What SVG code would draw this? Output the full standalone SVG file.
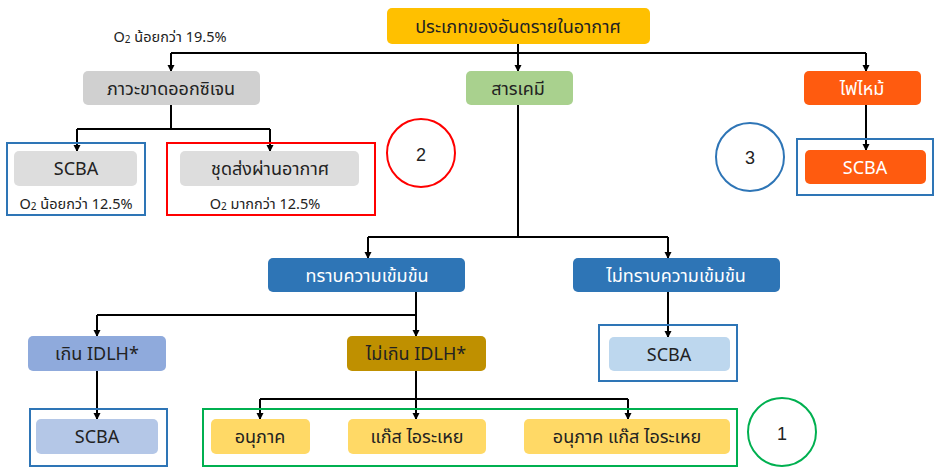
<svg xmlns="http://www.w3.org/2000/svg" width="946" height="475" viewBox="0 0 946 475">
<defs>
<marker id="ah" markerWidth="8" markerHeight="8" refX="6" refY="4" orient="auto" markerUnits="userSpaceOnUse"><path d="M0,0.5 L7,4 L0,7.5 Z" fill="#000"/></marker>
<style>
text{font-family:"Noto Sans","Noto Sans Thai","DejaVu Sans",sans-serif;font-size:18px;text-anchor:middle;dominant-baseline:central;fill:#222}
.s{font-size:14.5px}
.w{fill:#fff}
.c{stroke:#000;stroke-width:2;fill:none}
.a{marker-end:url(#ah)}
.f{fill:none;stroke-width:2}
</style>
</defs>
<rect width="946" height="475" fill="#fff"/>
<g id="connectors">
<path class="c" d="M518 44V53M171 53H866"/>
<path class="c a" d="M171 53V71"/>
<path class="c a" d="M518 53V71"/>
<path class="c a" d="M866 53V71"/>
<path class="c" d="M171 105V129M77 129H270"/>
<path class="c a" d="M77 129V151"/>
<path class="c a" d="M270 129V151"/>
<path class="c a" d="M866 105V150"/>
<path class="c" d="M518 105V237M368 237H668"/>
<path class="c a" d="M368 237V258"/>
<path class="c a" d="M668 237V258"/>
<path class="c a" d="M668 292V337"/>
<path class="c" d="M416 292V315M97 315H416"/>
<path class="c a" d="M97 315V336"/>
<path class="c a" d="M416 315V336"/>
<path class="c a" d="M97 371V419"/>
<path class="c" d="M260 399H628"/>
<path class="c a" d="M260 399V419"/>
<path class="c a" d="M416 371V419"/>
<path class="c a" d="M628 399V419"/>
</g>
<g id="frames">
<rect class="f" x="7" y="143" width="138" height="72" stroke="#2E75B6"/>
<rect class="f" x="167" y="143" width="208" height="72" stroke="#FF0000"/>
<rect class="f" x="797" y="139" width="136" height="56" stroke="#2E75B6"/>
<rect class="f" x="599" y="325" width="138" height="56" stroke="#2E75B6"/>
<rect class="f" x="30" y="409" width="137" height="57" stroke="#2E75B6"/>
<rect class="f" x="203" y="409" width="534" height="57" stroke="#00B050"/>
<circle class="f" cx="421" cy="153" r="34" stroke="#FF0000"/>
<circle class="f" cx="750" cy="157" r="34" stroke="#2E75B6"/>
<circle class="f" cx="782" cy="432" r="34" stroke="#00B050"/>
<text x="421" y="155" style="font-family:'Liberation Sans',sans-serif">2</text>
<text x="750" y="158" style="font-family:'Liberation Sans',sans-serif">3</text>
<text x="782" y="434" style="font-family:'Liberation Sans',sans-serif">1</text>
</g>
<g id="n-root"><rect x="387" y="8" width="263" height="36" rx="5" fill="#FFC000"/><text x="518" y="26">ประเภทของอันตรายในอากาศ</text></g>
<g id="lbl-o195"><text class="s" x="170" y="36">O<tspan font-size="10" dy="3">2</tspan><tspan dy="-3"> น้อยกว่า 19.5%</tspan></text></g>
<g id="n-oxy"><rect x="83" y="71" width="177" height="34" rx="5" fill="#D0D0D0"/><text x="171" y="88">ภาวะขาดออกซิเจน</text></g>
<g id="n-chem"><rect x="466" y="71" width="107" height="34" rx="5" fill="#A9D18E"/><text x="518" y="88">สารเคมี</text></g>
<g id="n-fire"><rect x="804" y="71" width="117" height="34" rx="5" fill="#FF5B0F"/><text class="w" x="862" y="88">ไฟไหม้</text></g>
<g id="n-scba1"><rect x="14" y="151" width="123" height="35" rx="5" fill="#DDDDDD"/><text x="76" y="168">SCBA</text><text class="s" x="76" y="203">O<tspan font-size="10" dy="3">2</tspan><tspan dy="-3"> น้อยกว่า 12.5%</tspan></text></g>
<g id="n-air"><rect x="180" y="151" width="179" height="35" rx="5" fill="#DDDDDD"/><text x="270" y="168">ชุดส่งผ่านอากาศ</text><text class="s" x="265" y="203">O<tspan font-size="10" dy="3">2</tspan><tspan dy="-3"> มากกว่า 12.5%</tspan></text></g>
<g id="n-scbaf"><rect x="805" y="150" width="121" height="34" rx="5" fill="#FF5B0F"/><text class="w" x="865" y="167">SCBA</text></g>
<g id="n-known"><rect x="268" y="258" width="197" height="34" rx="5" fill="#2E75B6"/><text class="w" x="367" y="275">ทราบความเข้มข้น</text></g>
<g id="n-unknown"><rect x="573" y="258" width="207" height="34" rx="5" fill="#2E75B6"/><text class="w" x="676" y="275">ไม่ทราบความเข้มข้น</text></g>
<g id="n-scbau"><rect x="609" y="337" width="121" height="34" rx="5" fill="#BDD7EE"/><text x="669" y="354">SCBA</text></g>
<g id="n-over"><rect x="28" y="336" width="138" height="35" rx="5" fill="#8FAADC"/><text x="97" y="353">เกิน IDLH*</text></g>
<g id="n-notover"><rect x="347" y="336" width="139" height="35" rx="5" fill="#BF9000"/><text x="416" y="353">ไม่เกิน IDLH*</text></g>
<g id="n-scbao"><rect x="36" y="419" width="122" height="35" rx="5" fill="#B4C7E7"/><text x="97" y="436">SCBA</text></g>
<g id="n-p"><rect x="211" y="419" width="99" height="35" rx="5" fill="#FFD966"/><text x="260" y="436">อนุภาค</text></g>
<g id="n-g"><rect x="348" y="419" width="138" height="35" rx="5" fill="#FFD966"/><text x="417" y="436">แก๊ส ไอระเหย</text></g>
<g id="n-pg"><rect x="524" y="419" width="206" height="35" rx="5" fill="#FFD966"/><text x="627" y="436">อนุภาค แก๊ส ไอระเหย</text></g>
</svg>
